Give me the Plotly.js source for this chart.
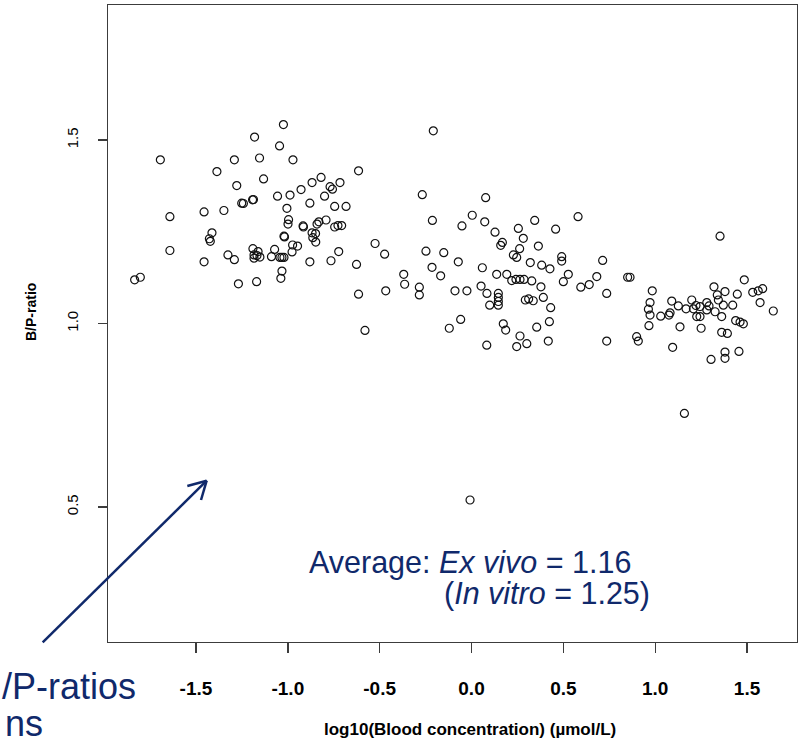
<!DOCTYPE html>
<html>
<head>
<meta charset="utf-8">
<script src="https://cdn.plot.ly/plotly-3.0.1.min.js"></script>
<style>html,body{margin:0;padding:0;background:#fff;}#chart{width:802px;height:742px;}</style>
</head>
<body>
<div id="chart"></div>
<script>
// ---- data (log10 blood concentration, B/P-ratio) ----
var lowConcX = [-1.024,-1.181,-1.045,-1.694,-1.291,-1.154,-0.972,-1.386,-0.615,-1.132,
  -1.278,-0.819,-0.868,-0.716,-0.770,-0.757,-0.928,-0.988,-1.056,-0.800,
  -1.251,-1.242,-1.192,-1.187,-0.880,-0.745,-0.683,-1.456,-1.348,-1.005,
  -1.642,-0.996,-0.999,-0.917,-0.915,-0.841,-0.831,-0.792,-0.745,-0.727,
  -0.707,-1.413,-1.427,-1.422,-1.021,-1.018,-0.868,-0.849,-0.864,-0.848,
  -0.525,-0.974,-0.947,-1.642,-1.190,-1.162,-1.184,-1.168,-1.152,-1.184,
  -1.072,-1.089,-1.043,-1.032,-1.021,-0.977,-0.723,-1.326,-1.291,-0.765,
  -0.880,-0.626,-1.456,-1.032,-1.038,-1.834,-1.803,-1.269,-1.170,-0.615,-0.580];
var lowConcY = [1.542,1.508,1.484,1.446,1.446,1.451,1.446,1.414,1.416,1.394,
  1.376,1.398,1.384,1.384,1.373,1.366,1.365,1.350,1.347,1.347,
  1.328,1.327,1.337,1.338,1.328,1.319,1.319,1.304,1.308,1.314,
  1.291,1.283,1.271,1.266,1.263,1.271,1.277,1.282,1.263,1.267,
  1.267,1.247,1.231,1.224,1.238,1.236,1.247,1.245,1.234,1.222,
  1.218,1.214,1.211,1.199,1.204,1.196,1.187,1.185,1.181,1.178,
  1.202,1.182,1.180,1.180,1.180,1.195,1.196,1.187,1.174,1.171,
  1.168,1.161,1.168,1.143,1.123,1.119,1.126,1.108,1.114,1.080,0.981];

var midConcX = [-0.208,-0.268,0.077,-0.213,0.004,-0.052,0.072,0.128,0.255,0.344,
  0.458,0.580,0.282,0.168,0.159,0.262,0.364,
  -0.473,-0.248,-0.151,0.228,0.246,0.491,0.491,-0.072,0.059,-0.215,
  -0.168,-0.369,-0.364,0.320,0.382,0.427,0.137,0.192,0.219,0.242,
  0.264,0.286,0.328,0.378,0.527,0.500,0.682,0.595,0.641,-0.467,
  -0.284,-0.284,-0.090,-0.025,0.052,0.084,0.146,0.146,0.146,0.146,
  0.099,0.293,0.311,0.336,0.391,0.431,-0.059,-0.121,0.173,0.186,
  0.355,0.424,0.264,0.083,0.246,0.301,0.418,-0.008];
var midConcY = [1.525,1.351,1.343,1.281,1.295,1.266,1.277,1.249,1.259,1.281,
  1.257,1.291,1.232,1.221,1.213,1.204,1.211,
  1.189,1.197,1.193,1.187,1.180,1.182,1.170,1.168,1.152,1.153,
  1.130,1.134,1.107,1.166,1.159,1.149,1.134,1.134,1.117,1.120,
  1.120,1.120,1.116,1.100,1.134,1.114,1.128,1.099,1.106,1.089,
  1.099,1.078,1.089,1.089,1.102,1.082,1.082,1.071,1.060,1.050,
  1.050,1.064,1.067,1.062,1.071,1.043,1.011,0.987,0.999,0.982,
  0.990,1.005,0.966,0.941,0.937,0.945,0.952,0.519];

var highConcX = [1.353,0.714,0.850,0.863,0.736,0.984,1.485,1.320,1.380,1.338,
  1.344,1.447,1.531,1.561,1.585,1.571,1.643,0.972,0.963,0.972,
  1.090,1.081,1.126,1.199,1.222,1.168,1.208,1.244,1.281,1.293,
  1.371,1.422,1.030,1.075,1.226,1.244,1.281,1.326,1.362,
  1.438,1.462,1.480,0.966,1.135,1.250,1.362,1.393,0.736,0.899,
  0.908,1.095,1.380,1.380,1.456,1.304,1.159];
var highConcY = [1.238,1.172,1.126,1.126,1.082,1.089,1.119,1.100,1.087,1.078,
  1.064,1.080,1.085,1.089,1.095,1.057,1.034,1.057,1.039,1.023,
  1.061,1.029,1.048,1.064,1.049,1.040,1.040,1.046,1.057,1.048,
  1.050,1.050,1.020,1.023,1.019,1.019,1.037,1.032,1.019,
  1.008,1.004,0.999,0.994,0.991,0.987,0.976,0.973,0.952,0.964,
  0.952,0.935,0.922,0.905,0.924,0.902,0.755];

var xTickVals = [-1.5,-1.0,-0.5,0.0,0.5,1.0,1.5];
var xTickText = ["-1.5","-1.0","-0.5","0.0","0.5","1.0","1.5"];
var yTickVals = [0.5,1.0,1.5];
var yTickText = ["0.5","1.0","1.5"];

// ---- drawing ----
var navy = '#10296b';
var axisCol = '#3c3c3c';
var sans = '"Liberation Sans", Arial, sans-serif';

function pts(x, y) {
  return {
    x: x, y: y, type: 'scatter', mode: 'markers', showlegend: false, hoverinfo: 'skip',
    marker: {symbol: 'circle-open', size: 8, color: '#111', line: {width: 1.2, color: '#111'}}
  };
}
var traces = [pts(lowConcX, lowConcY), pts(midConcX, midConcY), pts(highConcX, highConcY)];

var layout = {
  width: 802, height: 742,
  margin: {l: 108, r: 5, t: 5, b: 100, pad: 0},
  paper_bgcolor: '#fff', plot_bgcolor: '#fff',
  showlegend: false,
  xaxis: {
    range: [-1.979, 1.772], tickmode: 'array', tickvals: xTickVals, ticktext: xTickText,
    showgrid: false, zeroline: false, showline: true, mirror: true,
    linecolor: axisCol, linewidth: 1.4,
    ticks: 'outside', ticklen: 10, tickwidth: 1.4, tickcolor: axisCol,
    ticklabelstandoff: 19,
    tickfont: {family: sans, size: 19, color: '#000', weight: 'bold'}
  },
  yaxis: {
    range: [0.132, 1.868], tickmode: 'array', tickvals: yTickVals, ticktext: yTickText,
    showgrid: false, zeroline: false, showline: true, mirror: true,
    linecolor: axisCol, linewidth: 1.4,
    ticks: 'outside', ticklen: 9, tickwidth: 1.4, tickcolor: axisCol,
    tickangle: -90, ticklabelstandoff: 14,
    tickfont: {family: sans, size: 15, color: '#000'}
  },
  annotations: [
    {xref: 'paper', yref: 'paper', x: 0.5254, y: -0.138, xanchor: 'center', yanchor: 'middle',
     showarrow: false, text: 'log10(Blood concentration) (µmol/L)',
     font: {family: sans, size: 17, color: '#000', weight: 'bold'}},
    {xref: 'paper', yref: 'paper', x: -0.1118, y: 0.518, xanchor: 'center', yanchor: 'middle',
     showarrow: false, textangle: -90, text: 'B/P-ratio',
     font: {family: sans, size: 14, color: '#000', weight: 'bold'}},
    {xref: 'paper', yref: 'paper', x: 0.2888, y: 0.1248, xanchor: 'left', yanchor: 'middle',
     showarrow: false, text: 'Average: <i>Ex vivo</i> = 1.16',
     font: {family: sans, size: 30.5, color: navy}},
    {xref: 'paper', yref: 'paper', x: 0.4848, y: 0.0754, xanchor: 'left', yanchor: 'middle',
     showarrow: false, text: '(<i>In vitro</i> = 1.25)',
     font: {family: sans, size: 30.5, color: navy}},
    {xref: 'paper', yref: 'paper', x: 0.0435, y: -0.0691, xanchor: 'right', yanchor: 'middle',
     showarrow: false, text: '/P-ratios',
     font: {family: sans, size: 36, color: navy}},
    {xref: 'paper', yref: 'paper', x: -0.0914, y: -0.128, xanchor: 'right', yanchor: 'middle',
     showarrow: false, text: 'ns',
     font: {family: sans, size: 36, color: navy}}
  ],
  shapes: [
    {type: 'line', xref: 'paper', yref: 'paper', x0: -0.0948, y0: -0.0005, x1: 0.1432, y1: 0.2532,
     line: {color: navy, width: 2.5}},
    {type: 'line', xref: 'paper', yref: 'paper', x0: 0.1151, y0: 0.2449, x1: 0.1432, y1: 0.2532,
     line: {color: navy, width: 2.5}},
    {type: 'line', xref: 'paper', yref: 'paper', x0: 0.1350, y0: 0.2229, x1: 0.1432, y1: 0.2532,
     line: {color: navy, width: 2.5}}
  ]
};

Plotly.newPlot('chart', traces, layout, {staticPlot: true, displayModeBar: false});
</script>
</body>
</html>
